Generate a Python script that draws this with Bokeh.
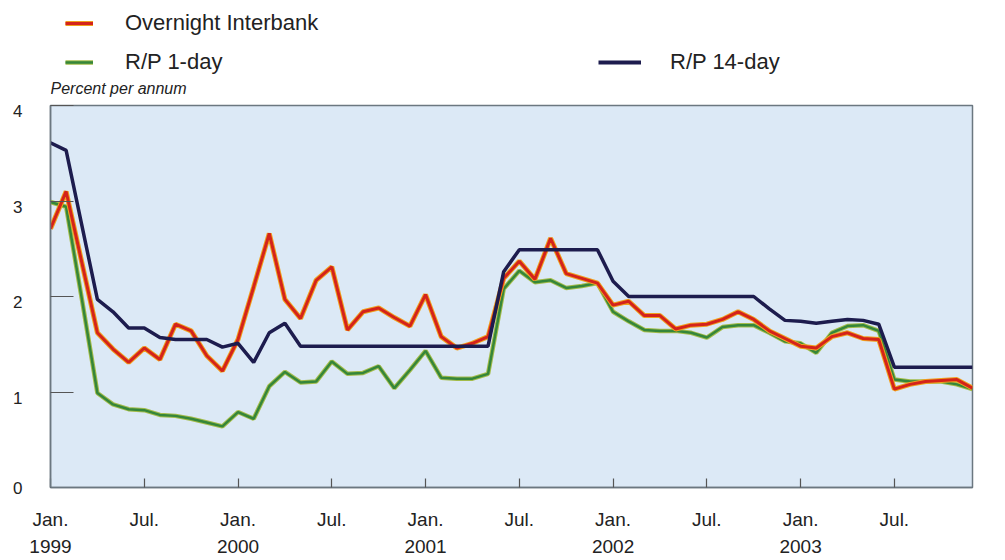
from bokeh.plotting import figure
from bokeh.layouts import column
from bokeh.models import (Range1d, FixedTicker, LinearAxis, Legend, LegendItem, Label,
                          ColumnDataSource)
from bokeh.embed import file_html
from bokeh.resources import INLINE

# ---- data (monthly, Jan 1999 = 0 ... Dec 2003 = 59) ----
months = list(range(60))
overnight = [2.71, 3.10, 2.36, 1.62, 1.45, 1.31, 1.46, 1.34, 1.71, 1.64,
             1.38, 1.22, 1.55, 2.10, 2.66, 1.97, 1.77, 2.17, 2.31, 1.65,
             1.84, 1.88, 1.78, 1.69, 2.02, 1.58, 1.46, 1.51, 1.58, 2.19,
             2.37, 2.18, 2.61, 2.24, 2.19, 2.14, 1.91, 1.95, 1.80, 1.80,
             1.66, 1.70, 1.71, 1.76, 1.84, 1.76, 1.64, 1.56, 1.48, 1.46,
             1.58, 1.62, 1.56, 1.55, 1.03, 1.08, 1.11, 1.12, 1.13, 1.04]
rp_1day = [2.99, 2.94, 1.98, 0.99, 0.87, 0.82, 0.81, 0.76, 0.75, 0.72,
           0.68, 0.64, 0.79, 0.72, 1.06, 1.21, 1.10, 1.11, 1.32, 1.19,
           1.20, 1.27, 1.04, 1.23, 1.43, 1.15, 1.14, 1.14, 1.19, 2.08,
           2.27, 2.15, 2.17, 2.09, 2.11, 2.14, 1.84, 1.74, 1.65, 1.64,
           1.64, 1.62, 1.57, 1.68, 1.70, 1.70, 1.62, 1.53, 1.51, 1.41,
           1.62, 1.69, 1.70, 1.64, 1.13, 1.11, 1.11, 1.11, 1.08, 1.03]
rp_14day = [3.61, 3.53, 2.75, 1.97, 1.84, 1.67, 1.67, 1.57, 1.55, 1.55,
            1.55, 1.47, 1.51, 1.31, 1.62, 1.72, 1.48, 1.48, 1.48, 1.48,
            1.48, 1.48, 1.48, 1.48, 1.48, 1.48, 1.48, 1.48, 1.48, 2.26,
            2.49, 2.49, 2.49, 2.49, 2.49, 2.49, 2.16, 2.00, 2.00, 2.00,
            2.00, 2.00, 2.00, 2.00, 2.00, 2.00, 1.87, 1.75, 1.74, 1.72,
            1.74, 1.76, 1.75, 1.71, 1.26, 1.26, 1.26, 1.26, 1.26, 1.26]

month_ticks = [0, 6, 12, 18, 24, 30, 36, 42, 48, 54]
month_labels = ["Jan.", "Jul.", "Jan.", "Jul.", "Jan.", "Jul.", "Jan.", "Jul.", "Jan.", "Jul."]
year_ticks = [0, 12, 24, 36, 48]
year_labels = ["1999", "2000", "2001", "2002", "2003"]
y_ticks = [1, 2, 3, 4]
y_label_values = [0, 1, 2, 3, 4]
y_labels = ["0", "1", "2", "3", "4"]

series_names = ["Overnight Interbank", "R/P 1-day", "R/P 14-day"]
unit_label = "Percent per annum"

FONT = "Liberation Sans"
TXT = "#222222"
AXC = "#6b7780"
RED, ORANGE = "#d4231b", "#f0a01e"
GREEN, LIME = "#35863a", "#a3bc4a"
NAVY = "#1d1c4e"

W = 1000
TOP_H = 97
MAIN_H = 462

# ---------------- legend strip (top) ----------------
top = figure(width=W, height=TOP_H, output_backend="svg", toolbar_location=None,
             x_range=Range1d(0, 1), y_range=Range1d(0, 1),
             x_axis_location=None, y_axis_location=None,
             min_border_left=0, min_border_right=0, min_border_top=0, min_border_bottom=0,
             background_fill_color="white", border_fill_color="white")
top.outline_line_color = None
top.grid.visible = False
# legend-only glyphs (a single point draws no line)
lo_u = top.line(x=[0], y=[0], line_color=ORANGE, line_width=5)
lo = top.line(x=[0], y=[0], line_color=RED, line_width=3)
lg_u = top.line(x=[0], y=[0], line_color=LIME, line_width=4.5)
lg = top.line(x=[0], y=[0], line_color=GREEN, line_width=2.5)
ln = top.line(x=[0], y=[0], line_color=NAVY, line_width=4)

common = dict(orientation="vertical", padding=0, margin=0, border_line_color=None,
              background_fill_alpha=0, label_text_font=FONT, label_text_font_size="22px",
              label_text_color=TXT, glyph_height=26, label_height=26, spacing=13)
leg1 = Legend(items=[LegendItem(label=series_names[0], renderers=[lo_u, lo]),
                     LegendItem(label=series_names[1], renderers=[lg_u, lg])],
              location=(15, 22), glyph_width=28, label_standoff=32, **common)
leg2 = Legend(items=[LegendItem(label=series_names[2], renderers=[ln])],
              location=(548, 22), glyph_width=43, label_standoff=29, **common)
top.add_layout(leg1)
top.add_layout(leg2)
top.add_layout(Label(x=0, y=9, x_units="screen", y_units="screen", text=unit_label,
                     text_align="left", text_baseline="middle", text_font=FONT,
                     text_font_style="italic", text_font_size="16px", text_color=TXT))

# ---------------- main chart ----------------
src = ColumnDataSource(dict(m=months, o=overnight, r1=rp_1day, r14=rp_14day))

p = figure(width=W, height=MAIN_H, output_backend="svg", toolbar_location=None,
           x_range=Range1d(0, 59), y_range=Range1d(0, 4),
           min_border_left=50, min_border_right=W - 972, min_border_top=8,
           min_border_bottom=MAIN_H - 390,
           background_fill_color="#dce9f6", border_fill_color="white")
p.xgrid.visible = False
p.ygrid.visible = False
p.outline_line_color = AXC
p.outline_line_width = 1.5

g_u = p.line("m", "r1", source=src, line_color=LIME, line_width=4.5)
g = p.line("m", "r1", source=src, line_color=GREEN, line_width=2.5)
o_u = p.line("m", "o", source=src, line_color=ORANGE, line_width=5)
o = p.line("m", "o", source=src, line_color=RED, line_width=3)
n = p.line("m", "r14", source=src, line_color=NAVY, line_width=3.5)

# x axis (months)
xa = p.xaxis[0]
xa.ticker = FixedTicker(ticks=month_ticks)
xa.major_label_overrides = {t: l for t, l in zip(month_ticks, month_labels)}
xa.major_tick_in = 9
xa.major_tick_out = 0
xa.minor_tick_line_color = None
xa.axis_line_color = AXC
xa.axis_line_width = 1.5
xa.major_tick_line_color = "#555555"
xa.major_tick_line_width = 1.2
xa.major_label_standoff = 21
xa.major_label_text_font = FONT
xa.major_label_text_font_size = "19px"
xa.major_label_text_color = TXT

# second x axis for years
yr = LinearAxis(ticker=FixedTicker(ticks=year_ticks),
                major_label_overrides={t: l for t, l in zip(year_ticks, year_labels)},
                axis_line_color=None, major_tick_line_color=None, minor_tick_line_color=None,
                major_tick_in=0, major_tick_out=0, major_label_standoff=7,
                major_label_text_font=FONT, major_label_text_font_size="19px",
                major_label_text_color=TXT)
p.add_layout(yr, "below")

# y axis: tick marks only
ya = p.yaxis[0]
ya.ticker = FixedTicker(ticks=y_ticks)
ya.major_label_overrides = {t: "" for t in y_ticks}
ya.major_tick_in = 23
ya.major_tick_out = 0
ya.major_label_standoff = 0
ya.minor_tick_line_color = None
ya.axis_line_color = AXC
ya.axis_line_width = 1.5
ya.major_tick_line_color = "#555555"
ya.major_tick_line_width = 1.2

# y axis labels (printed slightly below their ticks in the original)
shift = 6 / 96.0
lab_pos = [0] + [v - shift for v in y_label_values[1:]]
yl = LinearAxis(ticker=FixedTicker(ticks=lab_pos),
                major_label_overrides={t: l for t, l in zip(lab_pos, y_labels)},
                axis_line_color=None, major_tick_line_color=None, minor_tick_line_color=None,
                major_tick_in=0, major_tick_out=0, major_label_standoff=28,
                major_label_text_font=FONT, major_label_text_font_size="17px",
                major_label_text_color=TXT)
p.add_layout(yl, "left")

layout = column(top, p, spacing=0)
open("out.html", "w").write(file_html(layout, INLINE))
